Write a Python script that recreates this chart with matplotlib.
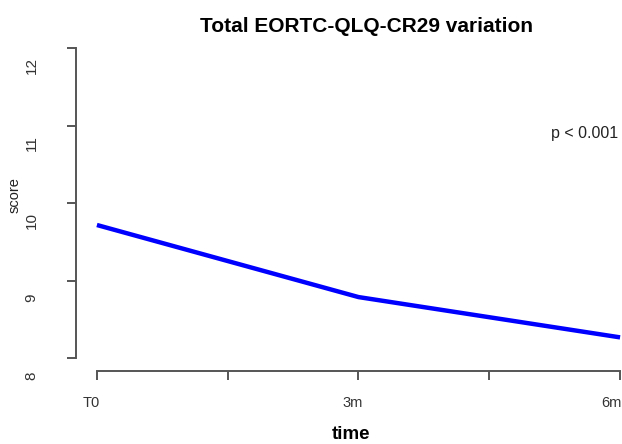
import matplotlib
matplotlib.use('Agg')
import matplotlib.pyplot as plt
import matplotlib.transforms as mtransforms

# data
time_pos = [1, 2, 3]
score = [9.72, 8.79, 8.27]
x_ticks = [1, 1.5, 2, 2.5, 3]
x_labels = ['T0', '', '3m', '', '6m']
y_ticks = [8, 9, 10, 11, 12]

plt.rcParams['font.family'] = ['Liberation Sans', 'DejaVu Sans']

W, H = 622, 444
fig = plt.figure(figsize=(W / 100, H / 100), dpi=100)
ax = fig.add_axes([76 / W, (H - 370.7) / H, 565 / W, 334.8 / H])

ax.plot(time_pos, score, color='#0000ff', lw=3.2, solid_capstyle='butt')

ax.set_xlim(0.92, 3.08)
ax.set_ylim(7.84, 12.16)

for s in ['top', 'right']:
    ax.spines[s].set_visible(False)
ax.spines['left'].set_bounds(8, 12)
ax.spines['bottom'].set_bounds(1, 3)
for s in ['left', 'bottom']:
    ax.spines[s].set_color('#555555')
    ax.spines[s].set_linewidth(1.4)

ax.set_xticks(x_ticks)
ax.set_xticklabels(x_labels)
ax.set_yticks(y_ticks)
ax.set_yticklabels([str(v) for v in y_ticks], rotation=90, va='center')
ax.tick_params(axis='both', direction='out', length=6.5, width=1.4, color='#555555')
ax.tick_params(axis='x', pad=11.5, labelsize=10.5, labelcolor='#333333')
ax.tick_params(axis='y', pad=20.5, labelsize=11, labelcolor='#333333')

# labels in the reference sit a bit off their ticks
for i, lab in enumerate(ax.get_xticklabels()):
    shift = -9 if i == len(x_labels) - 1 else -6
    dx = mtransforms.ScaledTranslation(shift / 100, 0, fig.dpi_scale_trans)
    lab.set_transform(lab.get_transform() + dx)
dy = mtransforms.ScaledTranslation(0, -17 / 100, fig.dpi_scale_trans)
for lab in ax.get_yticklabels():
    lab.set_transform(lab.get_transform() + dy)

fig.text(367 / W, 1 - 32 / H, 'Total EORTC-QLQ-CR29 variation', ha='center',
         va='baseline', fontsize=15, fontweight='bold', color='black')
fig.text(351.5 / W, 1 - 439 / H, 'time', ha='center', va='baseline',
         fontsize=13.5, fontweight='bold', color='black')
fig.text(15 / W, 1 - 195 / H, 'score', ha='center', va='center', rotation=90,
         fontsize=10.5, color='#222222')
fig.text(618 / W, 1 - 138.3 / H, 'p < 0.001', ha='right', va='baseline',
         fontsize=11.5, color='#222222')

fig.savefig('out.png', dpi=100, facecolor='white')
